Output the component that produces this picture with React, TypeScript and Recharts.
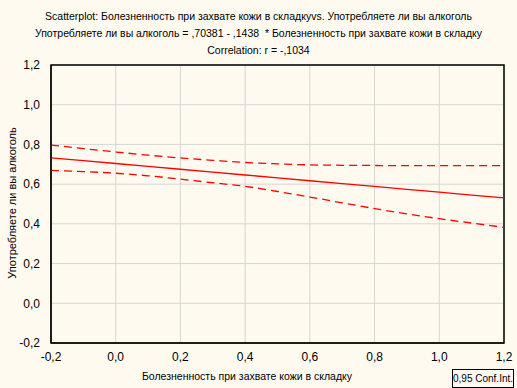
import React from "react";
import {
  LineChart,
  Line,
  XAxis,
  YAxis,
  CartesianGrid,
  ReferenceArea,
} from "recharts";

const xValues = [-0.2, -0.1, 0, 0.1, 0.2, 0.3, 0.4, 0.5, 0.6, 0.7, 0.8, 0.9, 1.0, 1.1, 1.2];
const fitValues = [0.732, 0.718, 0.704, 0.689, 0.675, 0.661, 0.646, 0.632, 0.617, 0.603, 0.589, 0.574, 0.56, 0.545, 0.531];
const upperValues = [0.797, 0.779, 0.762, 0.746, 0.732, 0.72, 0.709, 0.702, 0.697, 0.695, 0.694, 0.693, 0.693, 0.693, 0.693];
const lowerValues = [0.669, 0.663, 0.655, 0.642, 0.625, 0.607, 0.589, 0.563, 0.535, 0.506, 0.477, 0.45, 0.426, 0.404, 0.382];
const axisTicks = [-0.2, 0, 0.2, 0.4, 0.6, 0.8, 1.0, 1.2];

const titleLines = [
  "Scatterplot: Болезненность при захвате кожи в складкуvs. Употребляете ли вы алкоголь",
  "Употребляете ли вы алкоголь = ,70381 - ,1438  * Болезненность при захвате кожи в складку",
  "Correlation: r = -,1034",
];
const xLabel = "Болезненность при захвате кожи в складку";
const yLabel = "Употребляете ли вы алкоголь";
const legendText = "0,95 Conf.Int.";

const data = xValues.map((x, i) => ({
  x,
  fit: fitValues[i],
  upper: upperValues[i],
  lower: lowerValues[i],
}));

const font = "'Liberation Sans', Arial, sans-serif";
const fmt = (v: number) => v.toFixed(1).replace(".", ",");

export default function App() {
  return (
    <div
      style={{
        position: "absolute",
        left: 0,
        top: 0,
        width: 517,
        height: 388,
        background: "#fffaf0",
        fontFamily: font,
        overflow: "hidden",
      }}
    >
      {titleLines.map((t, i) => (
        <div
          key={i}
          style={{
            position: "absolute",
            left: 0,
            width: 517,
            top: 10 + i * 16.8,
            textAlign: "center",
            fontSize: 10.5,
            color: "#000",
            whiteSpace: "pre",
          }}
        >
          {t}
        </div>
      ))}
      <div
        style={{
          position: "absolute",
          left: 12 - 100,
          top: 205 - 8,
          width: 200,
          textAlign: "center",
          fontSize: 11,
          transform: "rotate(-90deg)",
          whiteSpace: "nowrap",
        }}
      >
        {yLabel}
      </div>
      <div
        style={{
          position: "absolute",
          left: 247 - 150,
          top: 370,
          width: 300,
          textAlign: "center",
          fontSize: 10.5,
          whiteSpace: "nowrap",
        }}
      >
        {xLabel}
      </div>
      <div
        style={{
          position: "absolute",
          left: 452,
          top: 369,
          width: 62,
          height: 19,
          border: "1px solid #000",
          fontSize: 10,
          lineHeight: "17px",
          textAlign: "center",
          whiteSpace: "nowrap",
          boxSizing: "border-box",
        }}
      >
        {legendText}
      </div>
      <div style={{ position: "absolute", left: 0, top: 0 }}>
        <LineChart
          width={517}
          height={388}
          data={data}
          margin={{ top: 65, right: 13, bottom: 15, left: 0 }}
        >
          <CartesianGrid stroke="#d6d6d6" strokeWidth={1} />
          <XAxis
            dataKey="x"
            type="number"
            domain={[-0.2, 1.2]}
            ticks={axisTicks}
            tickFormatter={fmt}
            height={30}
            tickSize={0}
            tickMargin={9}
            axisLine={{ stroke: "#000" }}
            tick={{ fill: "#000", fontSize: 12, fontFamily: font }}
          />
          <YAxis
            type="number"
            domain={[-0.2, 1.2]}
            ticks={axisTicks}
            tickFormatter={fmt}
            width={51}
            tickSize={0}
            tickMargin={11}
            axisLine={{ stroke: "#000" }}
            tick={{ fill: "#000", fontSize: 12, fontFamily: font }}
          />
          <ReferenceArea
            x1={-0.2}
            x2={1.2}
            y1={-0.2}
            y2={1.2}
            fill="none"
            stroke="#000"
            strokeWidth={1.5}
          />
          <Line
            dataKey="upper"
            type="monotone"
            stroke="#ff0000"
            strokeWidth={1.3}
            strokeDasharray="8 5"
            dot={false}
            isAnimationActive={false}
          />
          <Line
            dataKey="lower"
            type="monotone"
            stroke="#ff0000"
            strokeWidth={1.3}
            strokeDasharray="8 5"
            dot={false}
            isAnimationActive={false}
          />
          <Line
            dataKey="fit"
            type="linear"
            stroke="#ff0000"
            strokeWidth={1.3}
            dot={false}
            isAnimationActive={false}
          />
        </LineChart>
      </div>
    </div>
  );
}
